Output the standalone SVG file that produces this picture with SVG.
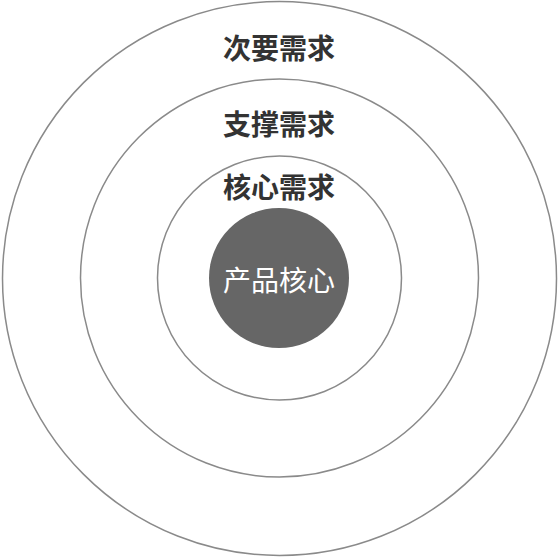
<svg xmlns="http://www.w3.org/2000/svg" width="559" height="559" viewBox="0 0 559 559">
  <style>
    .ring { fill: none; stroke: #8a8a8a; stroke-width: 1.5; }
    .lbl { font-family: "Noto Sans CJK SC", "Noto Sans", sans-serif; font-size: 28px; font-weight: bold; fill: #333333; text-anchor: middle; dominant-baseline: central; }
    .core { font-family: "Noto Sans CJK SC", "Noto Sans", sans-serif; font-size: 28px; fill: #ffffff; text-anchor: middle; dominant-baseline: central; }
  </style>
  <rect width="559" height="559" fill="#ffffff"/>
  <g id="secondary">
    <circle class="ring" cx="279.5" cy="278.5" r="277"/>
    <text class="lbl" x="279" y="47">次要需求</text>
  </g>
  <g id="support">
    <circle class="ring" cx="279.5" cy="278" r="199"/>
    <text class="lbl" x="279" y="123">支撑需求</text>
  </g>
  <g id="coreneeds">
    <circle class="ring" cx="279.5" cy="278" r="122"/>
    <text class="lbl" x="279" y="186">核心需求</text>
  </g>
  <g id="productcore">
    <circle cx="279" cy="278" r="70" fill="#666666"/>
    <text class="core" x="279" y="279">产品核心</text>
  </g>
  <g id="connectors"></g>
</svg>
